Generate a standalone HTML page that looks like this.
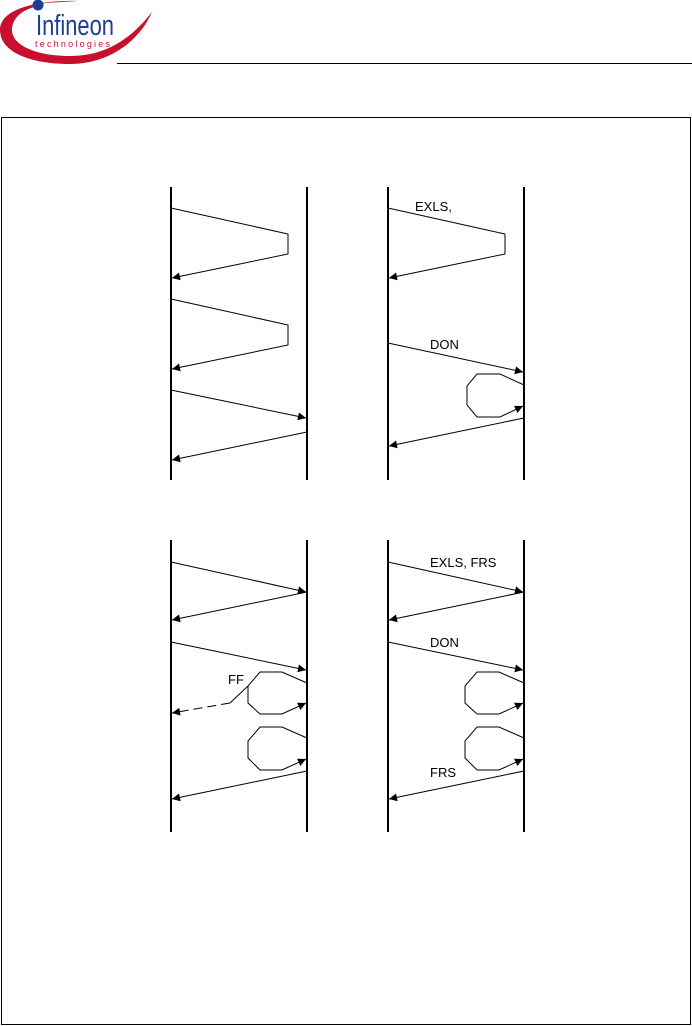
<!DOCTYPE html>
<html><head><style>
html,body{margin:0;padding:0;background:#fff;}
svg{display:block;}
text{font-family:"Liberation Sans",sans-serif;font-size:12px;fill:#000;}
</style></head><body>
<svg width="692" height="1026" viewBox="0 0 692 1026" xmlns="http://www.w3.org/2000/svg">
<defs>
<marker id="a" viewBox="0 0 10 10" refX="10" refY="5" markerWidth="11" markerHeight="8" markerUnits="userSpaceOnUse" orient="auto"><path d="M0,0 L10,5 L0,10 z" fill="#000"/></marker>
</defs>
<!-- logo -->
<path d="M78,1 C40,0 0,8 0,30 C0,52 30,64 70,64 C110,64 140,40 152,12 C130,40 105,56 70,56 C38,56 12,46 12,30 C12,17 24,9 38,6 L45,3 Z" fill="#c8102e"/>
<circle cx="38" cy="5" r="5.5" fill="#1c3f94"/>
<text x="36" y="35" style="font-size:29px;fill:#1c3f94" textLength="78" lengthAdjust="spacingAndGlyphs">Infineon</text>
<text x="35" y="47" style="font-size:9px;fill:#c8102e" textLength="75" lengthAdjust="spacing">technologies</text>
<line x1="117" y1="63.5" x2="692" y2="63.5" stroke="#000" stroke-width="1"/>
<rect x="1.5" y="117.5" width="689" height="907" fill="none" stroke="#000" stroke-width="1"/>
<g stroke="#000" stroke-width="2">
<line x1="171" y1="187" x2="171" y2="480"/><line x1="307" y1="187" x2="307" y2="480"/>
<line x1="388" y1="187" x2="388" y2="480"/><line x1="524" y1="187" x2="524" y2="480"/>
<line x1="171" y1="540" x2="171" y2="832"/><line x1="307" y1="540" x2="307" y2="832"/>
<line x1="388" y1="540" x2="388" y2="832"/><line x1="524" y1="540" x2="524" y2="832"/>
</g>
<g stroke="#000" stroke-width="1" fill="none" marker-end="url(#a)">
<polyline points="171,208 288,234 288,254 172,278"/>
<polyline points="171,299 288,325 288,345 172,369"/>
<line x1="171" y1="390" x2="306" y2="418"/>
<line x1="307" y1="432" x2="172" y2="460"/>
<polyline points="388,208 505,234 505,254 389,278"/>
<line x1="388" y1="343" x2="523" y2="372"/>
<polyline points="524,385 500,374 477,374 467,386 467,405 477,417 500,417 523,406"/>
<line x1="524" y1="418" x2="389" y2="446"/>
<line x1="171" y1="562" x2="306" y2="592"/>
<line x1="307" y1="592" x2="172" y2="620"/>
<line x1="171" y1="642" x2="306" y2="670"/>
<polyline points="307,683 282,672 260,672 248,686 248,703 260,714 282,714 306,703"/>
<polyline points="307,738 282,727 260,727 248,741 248,758 260,770 282,770 306,759"/>
<line x1="307" y1="771" x2="172" y2="799"/>
<line x1="388" y1="562" x2="523" y2="592"/>
<line x1="524" y1="592" x2="389" y2="620"/>
<line x1="388" y1="642" x2="523" y2="670"/>
<polyline points="524,683 499,672 477,672 465,686 465,703 477,714 499,714 523,703"/>
<polyline points="524,738 499,727 477,727 465,741 465,758 477,770 499,770 523,759"/>
<line x1="524" y1="771" x2="389" y2="799"/>
</g>
<polyline points="248,686 230,703" stroke="#000" fill="none"/>
<line x1="230" y1="703" x2="172" y2="713" stroke="#000" stroke-dasharray="9,5" marker-end="url(#a)"/>
<text x="415" y="211" style="font-size:13px">EXLS,</text>
<text x="430" y="349" style="font-size:13px">DON</text>
<text x="430" y="567" style="font-size:13px">EXLS, FRS</text>
<text x="430" y="647" style="font-size:13px">DON</text>
<text x="430" y="777" style="font-size:13px">FRS</text>
<text x="228" y="684" style="font-size:13px">FF</text>
</svg>
</body></html>
